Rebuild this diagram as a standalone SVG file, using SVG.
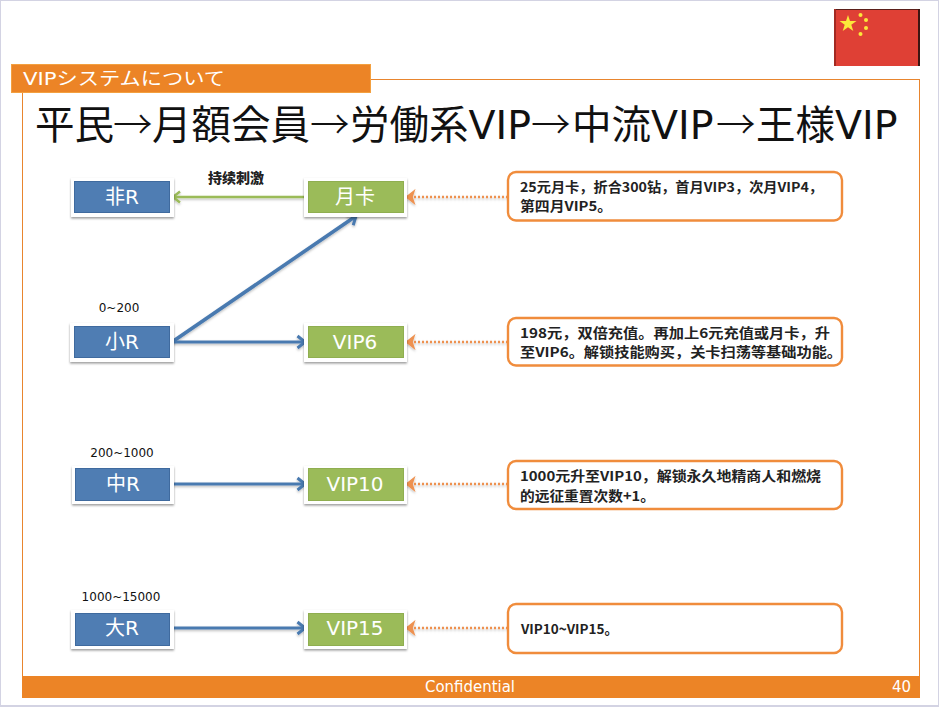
<svg xmlns="http://www.w3.org/2000/svg" width="939" height="707" viewBox="0 0 939 707">
<style>
.cjk{font-family:"DejaVu Sans","Noto Sans CJK JP",sans-serif}
.arw{font-family:"Noto Sans CJK JP",sans-serif;font-weight:300}
.box{font-family:"DejaVu Sans","Noto Sans CJK SC",sans-serif;font-size:20px;fill:#fff;text-anchor:middle}
.frame{fill:#fff;filter:url(#sh)}
.b{fill:#4f7db3;stroke:#3f6a9e;stroke-width:1}
.g{fill:#9bbb59;stroke:#8fae50;stroke-width:1}
.note{fill:#fff;stroke:#f08c3c;stroke-width:2.400}
.nt{font-family:"Noto Sans CJK SC",sans-serif;font-size:13.500px;font-weight:700;fill:#222}
.rng{font-family:"DejaVu Sans",sans-serif;font-size:12px;fill:#111;text-anchor:middle}
.blue{stroke:#4a7ab0;stroke-width:2.800;fill:none;filter:url(#ls)}
.diag{stroke-width:3.600}
.green{stroke:#9bbb59;stroke-width:2.400;fill:none;filter:url(#ls)}
.dot{stroke:#ee9150;stroke-width:2.400;stroke-dasharray:2 2;fill:none;filter:url(#ls)}
</style>
<defs>
<filter id="sh" x="-10%" y="-20%" width="120%" height="150%"><feDropShadow dx="0" dy="1.500" stdDeviation="1.200" flood-color="#000" flood-opacity=".4"/></filter>
<filter id="ls" filterUnits="userSpaceOnUse" x="0" y="0" width="939" height="707"><feDropShadow dx="0" dy="1.500" stdDeviation="1" flood-color="#000" flood-opacity=".25"/></filter>
<marker id="ab" markerWidth="16" markerHeight="16" refX="11" refY="8" orient="auto" markerUnits="userSpaceOnUse"><path d="M3.500 2L11 8L3.500 14" fill="none" stroke="#4a7ab0" stroke-width="3"/></marker>
<marker id="ag" markerWidth="14" markerHeight="14" refX="2" refY="7" orient="0" markerUnits="userSpaceOnUse"><path d="M9 1.500L2 7L9 12.500" fill="none" stroke="#9bbb59" stroke-width="2.400"/></marker>
<marker id="ao" markerWidth="16" markerHeight="16" refX="2" refY="8" orient="0" markerUnits="userSpaceOnUse"><path d="M10 2L2.500 8L10 14L8 8Z" fill="#ee9150" stroke="#ee9150" stroke-width="1.500"/></marker>
</defs>
<rect width="939" height="707" fill="#d3d3e3"/>
<rect x="1" y="1" width="937" height="704" fill="#fff"/>
<g id="flag"><rect x="834" y="9" width="86" height="57" fill="#df4035"/><rect x="834" y="9" width="86" height="1" fill="#5a1f1a"/><rect x="834" y="9" width="2" height="57" fill="#a32a22"/><rect x="918" y="9" width="2" height="57" fill="#3d1512"/>
<polygon points="848,15 850,21 856.500,21 851.300,24.800 853.300,31 848,27.200 842.700,31 844.700,24.800 839.500,21 846,21" fill="#fbe83a"/>
<g fill="#fbe83a"><circle cx="860.500" cy="15" r="2"/><circle cx="866" cy="20" r="2"/><circle cx="866" cy="28" r="2"/><circle cx="860.500" cy="34" r="2"/></g></g>
<rect x="22.500" y="79.500" width="897" height="600" fill="#fff" stroke="#e8852e" stroke-width="1"/>
<g id="header"><rect x="11.500" y="64.500" width="359" height="28" fill="#ec8426" stroke="#f3a040"/><text x="23" y="85" class="cjk" font-size="18" fill="#fff" textLength="202" lengthAdjust="spacingAndGlyphs">VIPシステムについて</text></g>
<text id="title" y="139" class="cjk" font-size="39.500" fill="#111"><tspan x="35">平民</tspan><tspan class="arw" x="113">→</tspan><tspan x="152">月額会員</tspan><tspan class="arw" x="310">→</tspan><tspan x="350">労働系VIP</tspan><tspan class="arw" x="531">→</tspan><tspan x="572">中流VIP</tspan><tspan class="arw" x="716">→</tspan><tspan x="756">王様VIP</tspan></text>
<g id="connectors">
<line class="green" x1="304" y1="197" x2="173" y2="197" marker-end="url(#ag)"/>
<line class="blue diag" x1="172" y1="342" x2="356" y2="216" marker-end="url(#ab)"/>
<line class="blue" x1="172" y1="342" x2="305" y2="342" marker-end="url(#ab)"/>
<line class="blue" x1="172" y1="484" x2="305" y2="484" marker-end="url(#ab)"/>
<line class="blue" x1="172" y1="628" x2="305" y2="628" marker-end="url(#ab)"/>
<line class="dot" x1="508" y1="197" x2="406" y2="197" marker-end="url(#ao)"/>
<line class="dot" x1="508" y1="342" x2="406" y2="342" marker-end="url(#ao)"/>
<line class="dot" x1="508" y1="484" x2="406" y2="484" marker-end="url(#ao)"/>
<line class="dot" x1="508" y1="628" x2="406" y2="628" marker-end="url(#ao)"/>
</g>
<text x="236" y="183" font-family="Noto Sans CJK SC,sans-serif" font-size="14" font-weight="900" fill="#222" text-anchor="middle">持续刺激</text>
<text class="rng" x="119" y="312">0~200</text>
<text class="rng" x="122" y="457">200~1000</text>
<text class="rng" x="121" y="601">1000~15000</text>
<g id="n-feir"><rect class="frame" x="71" y="178" width="103" height="39"/><rect class="b" x="74.500" y="181.500" width="95" height="31"/><text class="box" x="122" y="204">非R</text></g>
<g id="n-yueka"><rect class="frame" x="304" y="178" width="103" height="39"/><rect class="g" x="308.500" y="181.500" width="95" height="31"/><text class="box" x="355" y="204">月卡</text></g>
<g id="n-xiao"><rect class="frame" x="70" y="323" width="104" height="39"/><rect class="b" x="74.500" y="326.500" width="95" height="31"/><text class="box" x="122" y="349">小R</text></g>
<g id="n-vip6"><rect class="frame" x="304" y="323" width="103" height="39"/><rect class="g" x="308.500" y="326.500" width="95" height="31"/><text class="box" x="355" y="349">VIP6</text></g>
<g id="n-zhong"><rect class="frame" x="72" y="466" width="102" height="38"/><rect class="b" x="75.500" y="468.500" width="94" height="32"/><text class="box" x="123" y="491">中R</text></g>
<g id="n-vip10"><rect class="frame" x="304" y="466" width="103" height="38"/><rect class="g" x="308.500" y="468.500" width="95" height="32"/><text class="box" x="355" y="491">VIP10</text></g>
<g id="n-da"><rect class="frame" x="71" y="610" width="103" height="39"/><rect class="b" x="75.500" y="613.500" width="94" height="32"/><text class="box" x="122" y="635">大R</text></g>
<g id="n-vip15"><rect class="frame" x="304" y="610" width="103" height="39"/><rect class="g" x="308.500" y="613.500" width="95" height="32"/><text class="box" x="355" y="635">VIP15</text></g>
<g id="note1"><rect class="note" x="508" y="172" width="334" height="48.500" rx="8"/><text class="nt" x="520" y="192" textLength="303" lengthAdjust="spacingAndGlyphs">25元月卡，折合300钻，首月VIP3，次月VIP4，</text><text class="nt" x="520" y="211" textLength="92" lengthAdjust="spacingAndGlyphs">第四月VIP5。</text></g>
<g id="note2"><rect class="note" x="508" y="318" width="334" height="47.500" rx="8"/><text class="nt" x="520" y="338" textLength="310" lengthAdjust="spacingAndGlyphs">198元，双倍充值。再加上6元充值或月卡，升</text><text class="nt" x="520" y="357" textLength="322" lengthAdjust="spacingAndGlyphs">至VIP6。解锁技能购买，关卡扫荡等基础功能。</text></g>
<g id="note3"><rect class="note" x="508" y="461" width="334" height="48" rx="8"/><text class="nt" x="520" y="481" textLength="301" lengthAdjust="spacingAndGlyphs">1000元升至VIP10，解锁永久地精商人和燃烧</text><text class="nt" x="520" y="501" textLength="135" lengthAdjust="spacingAndGlyphs">的远征重置次数+1。</text></g>
<g id="note4"><rect class="note" x="508" y="604" width="334" height="49" rx="8"/><text class="nt" x="521" y="634" textLength="97" lengthAdjust="spacingAndGlyphs" font-weight="500">VIP10~VIP15。</text></g>
<g id="footer"><rect x="22" y="676" width="898" height="22" fill="#ec8426"/><text x="470" y="692" font-family="DejaVu Sans,sans-serif" font-size="15" fill="#fff" text-anchor="middle" textLength="90" lengthAdjust="spacingAndGlyphs">Confidential</text><text x="911" y="692" font-family="DejaVu Sans,sans-serif" font-size="15" fill="#fff" text-anchor="end">40</text></g>
</svg>
